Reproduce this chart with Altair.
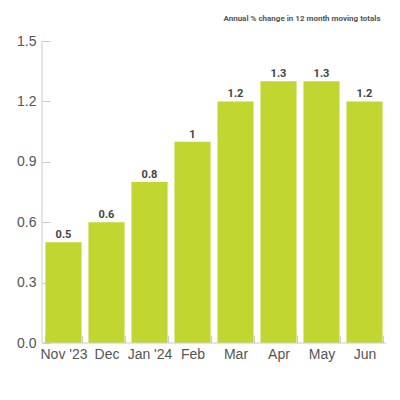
import altair as alt
import pandas as pd

PLOT_W = 344
PLOT_H = 302
BAR_COLOR = "#c1d631"
AXIS_GREY = "#cccccc"
LABEL_GREY = "#555555"
NARROW = "Roboto, sans-serif"

months = ["Nov '23", "Dec", "Jan '24", "Feb", "Mar", "Apr", "May", "Jun"]
change = [0.5, 0.6, 0.8, 1.0, 1.2, 1.3, 1.3, 1.2]
y_ticks = [0.0, 0.3, 0.6, 0.9, 1.2, 1.5]

df = pd.DataFrame({"month": months, "change": change})

x_enc = alt.X(
    "month:N",
    sort=months,
    title=None,
    scale=alt.Scale(paddingInner=0.16, paddingOuter=0.08),
    axis=alt.Axis(
        labelAngle=0,
        tickBand="extent",
        domain=False,
        offset=-8,
        tickSize=8,
        tickColor=AXIS_GREY,
        labelPadding=4,
        labelFontSize=14,
        labelColor=LABEL_GREY,
        labelFont="Liberation Sans",
    ),
)
y_enc = alt.Y(
    "change:Q",
    title=None,
    scale=alt.Scale(domain=[0, 1.5], nice=False),
    axis=alt.Axis(
        values=y_ticks,
        format=".1f",
        grid=False,
        domain=False,
        offset=-8,
        tickSize=8,
        tickColor=AXIS_GREY,
        labelPadding=6,
        labelFontSize=14,
        labelColor=LABEL_GREY,
        labelFont="Liberation Sans",
    ),
)

base = alt.Chart(df)

bars = base.mark_bar(color=BAR_COLOR).encode(x=x_enc, y=y_enc)

values = base.mark_text(
    dy=-4,
    baseline="alphabetic",
    font=NARROW,
    fontWeight="bold",
    fontSize=11,
    color="#444444",
).encode(x=x_enc, y=y_enc, text=alt.Text("change:Q", format="~g"))

one = alt.Chart(pd.DataFrame({"v": [0]}))
y_line = one.mark_rule(color=AXIS_GREY).encode(
    x=alt.value(0), y=alt.value(0), y2=alt.value(PLOT_H)
)
x_line = one.mark_rule(color=AXIS_GREY).encode(
    x=alt.value(0), x2=alt.value(PLOT_W), y=alt.value(PLOT_H)
)

chart = alt.layer(bars, values, y_line, x_line).properties(
    width=PLOT_W,
    height=PLOT_H,
    autosize=alt.AutoSizeParams(type="none"),
    padding={"left": 34, "top": 33, "right": 6, "bottom": 49},
    title=alt.TitleParams(
        "Annual % change in 12 month moving totals",
        anchor="end",
        orient="top",
        offset=11,
        dx=-6,
        font=NARROW,
        fontWeight="bold",
        fontSize=8,
        color=LABEL_GREY,
    ),
).configure_view(stroke=None)

chart.save("out.html", embed_options={"renderer": "svg", "actions": False})
